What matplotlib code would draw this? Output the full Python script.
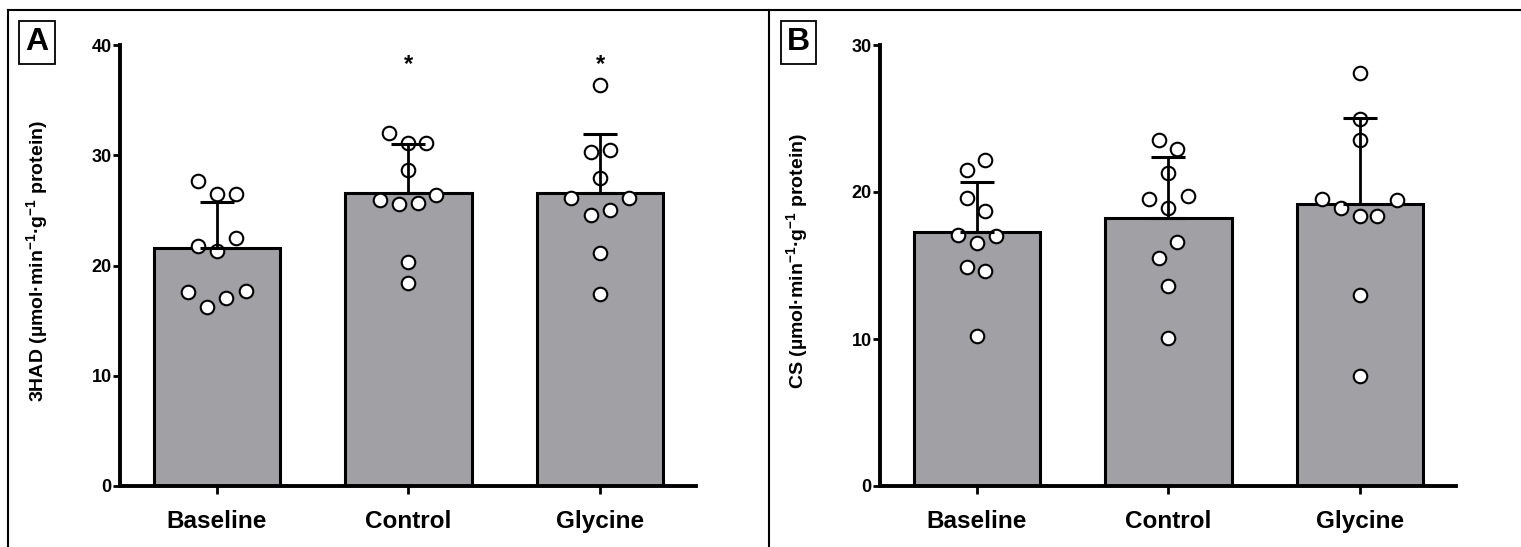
import matplotlib
matplotlib.use("Agg")
import matplotlib.pyplot as plt
from matplotlib.lines import Line2D

plt.rcParams['font.family'] = ['Liberation Sans', 'DejaVu Sans']
plt.rcParams['font.weight'] = 'bold'
plt.rcParams['mathtext.fontset'] = 'custom'
plt.rcParams['mathtext.rm'] = 'Liberation Sans:bold'
plt.rcParams['mathtext.bf'] = 'Liberation Sans:bold'
plt.rcParams['mathtext.default'] = 'bf'

groups = ["Baseline", "Control", "Glycine"]

# panel A: 3HAD
had_mean = [21.6, 26.6, 26.6]
had_sd = [4.2, 4.4, 5.3]
had_base = [27.7, 26.5, 26.5, 22.5, 21.8, 21.3, 17.6, 17.7, 17.05, 16.2]
had_ctrl = [32.0, 31.1, 31.1, 28.7, 26.4, 25.9, 25.6, 25.7, 20.3, 18.4]
had_gly = [36.4, 30.3, 30.5, 27.9, 26.1, 26.1, 24.6, 25.0, 21.1, 17.4]
had_sig = ["", "*", "*"]

# panel B: CS
cs_mean = [17.3, 18.2, 19.15]
cs_sd = [3.4, 4.15, 5.9]
cs_base = [22.15, 21.5, 19.6, 18.7, 17.05, 17.0, 16.5, 14.9, 14.6, 10.2]
cs_ctrl = [23.55, 22.9, 21.3, 19.5, 19.7, 18.9, 16.6, 15.5, 13.6, 10.1]
cs_gly = [28.1, 25.0, 23.55, 19.55, 19.45, 18.9, 18.35, 18.35, 13.0, 7.45]

# horizontal scatter offsets (as drawn in the figure)
had_jit = [
    [-0.10, 0.0, 0.10, 0.10, -0.10, 0.0, -0.15, 0.15, 0.05, -0.05],
    [-0.10, 0.09, 0.0, 0.0, 0.145, -0.15, -0.05, 0.05, 0.0, 0.0],
    [0.0, -0.05, 0.05, 0.0, -0.15, 0.15, -0.05, 0.05, 0.0, 0.0],
]
cs_jit = [
    [0.045, -0.05, -0.05, 0.045, -0.10, 0.10, 0.0, -0.05, 0.045, 0.0],
    [-0.05, 0.045, 0.0, -0.10, 0.10, 0.0, 0.045, -0.05, 0.0, 0.0],
    [0.0, 0.0, 0.0, -0.20, 0.19, -0.10, 0.0, 0.09, 0.0, 0.0],
]

bar_color = "#a1a0a5"

fig = plt.figure(figsize=(15.21, 5.47), dpi=100)

# panel frame lines
fig.add_artist(Line2D([8 / 1521, 1], [1 - 10 / 547, 1 - 10 / 547], color="black", lw=1.5))
fig.add_artist(Line2D([8 / 1521, 8 / 1521], [0, 1 - 10 / 547], color="black", lw=1.5))
fig.add_artist(Line2D([769 / 1521, 769 / 1521], [0, 1 - 10 / 547], color="black", lw=1.5))


def panel(left, means, sds, points, jit, ymax, ylabel, sig=None):
    ax = fig.add_axes([left / 1521, 1 - 486 / 547, 576 / 1521, 441 / 547])
    x = range(len(groups))
    ax.bar(x, means, width=0.66, color=bar_color, edgecolor="black", linewidth=2.2, zorder=1)
    for i, pts in enumerate(points):
        xs = [i + j for j in jit[i]]
        ax.scatter(xs, pts, s=95, facecolor="white", edgecolor="black", linewidth=1.5, zorder=3)
    ax.errorbar(x, means, yerr=[[0] * len(means), sds], fmt="none", ecolor="black",
                elinewidth=2, capsize=12, capthick=2.2, zorder=4)
    if sig:
        for i, s in enumerate(sig):
            if s:
                ax.text(i, ymax * 0.955, s, ha="center", va="center", fontsize=17, fontweight="bold")
    ax.set_xlim(-0.505, 2.5)
    ax.set_ylim(0, ymax)
    ax.set_yticks(range(0, ymax + 1, 10))
    ax.set_xticks(list(x))
    ax.set_xticklabels(groups, fontsize=17.5, fontweight="bold")
    ax.tick_params(axis="y", labelsize=13, width=2, length=5, pad=1)
    ax.tick_params(axis="x", width=2, length=6, pad=11)
    for lab in ax.get_yticklabels():
        lab.set_fontweight("bold")
    for side in ["top", "right"]:
        ax.spines[side].set_visible(False)
    for side in ["left", "bottom"]:
        ax.spines[side].set_linewidth(2.8)
    ax.set_ylabel(ylabel, fontsize=14, fontweight="bold")
    ax.yaxis.set_label_coords(-0.122, 0.51)
    ax.patch.set_visible(False)
    return ax


panel(120, had_mean, had_sd, [had_base, had_ctrl, had_gly], had_jit, 40,
      r"3HAD (µmol·min$^{-1}$·g$^{-1}$ protein)", had_sig)
panel(880, cs_mean, cs_sd, [cs_base, cs_ctrl, cs_gly], cs_jit, 30,
      r"CS (µmol·min$^{-1}$·g$^{-1}$ protein)")

# panel letters in boxes
for lx, letter in [(37 / 1521, "A"), (798.5 / 1521, "B")]:
    fig.text(lx, 1 - 42.5 / 547, letter, ha="center", va="center", fontsize=23, fontweight="bold",
             bbox=dict(boxstyle="square,pad=0.2", facecolor="white", edgecolor="black", linewidth=1.3))

fig.savefig("out.png", dpi=100)
